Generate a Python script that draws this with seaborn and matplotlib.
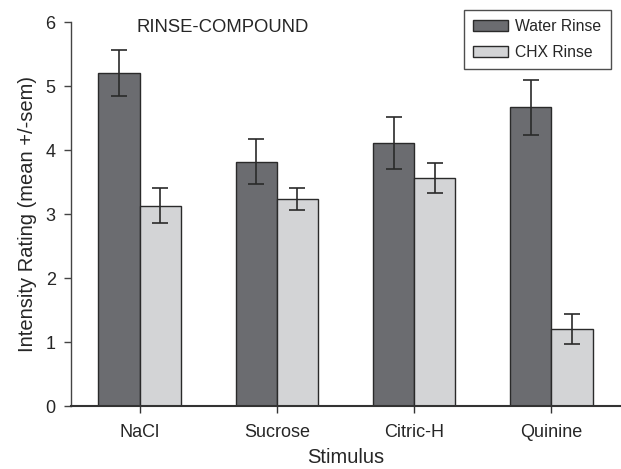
import matplotlib
matplotlib.use("Agg")
import matplotlib.pyplot as plt
import seaborn as sns
import pandas as pd
import numpy as np

stimuli = ["NaCl", "Sucrose", "Citric-H", "Quinine"]
rinses = ["Water Rinse", "CHX Rinse"]
water_mean = [5.20, 3.82, 4.11, 4.67]
water_sem = [0.36, 0.35, 0.40, 0.43]
chx_mean = [3.13, 3.23, 3.56, 1.20]
chx_sem = [0.27, 0.17, 0.23, 0.23]

df = pd.DataFrame({
    "Stimulus": stimuli * 2,
    "Rinse": [rinses[0]] * 4 + [rinses[1]] * 4,
    "mean": water_mean + chx_mean,
    "sem": water_sem + chx_sem,
})

sns.set_style("white")
plt.rcParams["font.family"] = ["Liberation Sans", "DejaVu Sans"]

fig = plt.figure(figsize=(6.21, 4.69), dpi=100)
ax = fig.add_axes([71/621, 63/469, 549/621, 384/469])

palette = {"Water Rinse": "#6b6c70", "CHX Rinse": "#d3d4d6"}
sns.barplot(data=df, x="Stimulus", y="mean", hue="Rinse", order=stimuli,
            hue_order=rinses, palette=palette, errorbar=None, width=0.6,
            edgecolor="#2a2a2a", linewidth=1.0, saturation=1, ax=ax,
            legend=True)

# error bars from bar patches
for container, sems in zip(ax.containers, [water_sem, chx_sem]):
    for bar, s in zip(container, sems):
        xc = bar.get_x() + bar.get_width() / 2
        h = bar.get_height()
        ax.errorbar(xc, h, yerr=s, fmt="none", ecolor="#2a2a2a",
                    elinewidth=1.2, capsize=5.5, capthick=1.2, zorder=5)

ax.set_ylim(0, 6)
ax.set_xlim(-0.5, 3.5)
ax.set_yticks([0, 1, 2, 3, 4, 5, 6])
ax.set_xlabel("Stimulus", fontsize=14.5, labelpad=5)
ax.set_ylabel("Intensity Rating (mean +/-sem)", fontsize=14.5, labelpad=6)

for s in ["top", "right"]:
    ax.spines[s].set_visible(False)
ax.spines["left"].set_color("#444444")
ax.spines["left"].set_linewidth(1.0)
ax.spines["bottom"].set_color("#333333")
ax.spines["bottom"].set_linewidth(1.5)
ax.tick_params(axis="y", direction="out", length=5, width=1, color="#444444",
               labelsize=13, pad=6, left=True)
ax.tick_params(axis="x", direction="out", length=5, width=1, color="#333333",
               labelsize=13, pad=8, bottom=True)

ax.text(0.12, (406 - 27) / 384, "RINSE-COMPOUND", transform=ax.transAxes,
        fontsize=13.3, ha="left", va="center")

leg = ax.legend(loc="upper right", bbox_to_anchor=(611/621, 1 - 10/469),
                bbox_transform=fig.transFigure, fontsize=11.3, frameon=True,
                fancybox=False, edgecolor="#222222", handlelength=2.2,
                handleheight=0.7, borderpad=0.6, labelspacing=0.65,
                handletextpad=0.5, borderaxespad=0)
leg.get_frame().set_linewidth(1.0)

fig.savefig("out.png", dpi=100)
